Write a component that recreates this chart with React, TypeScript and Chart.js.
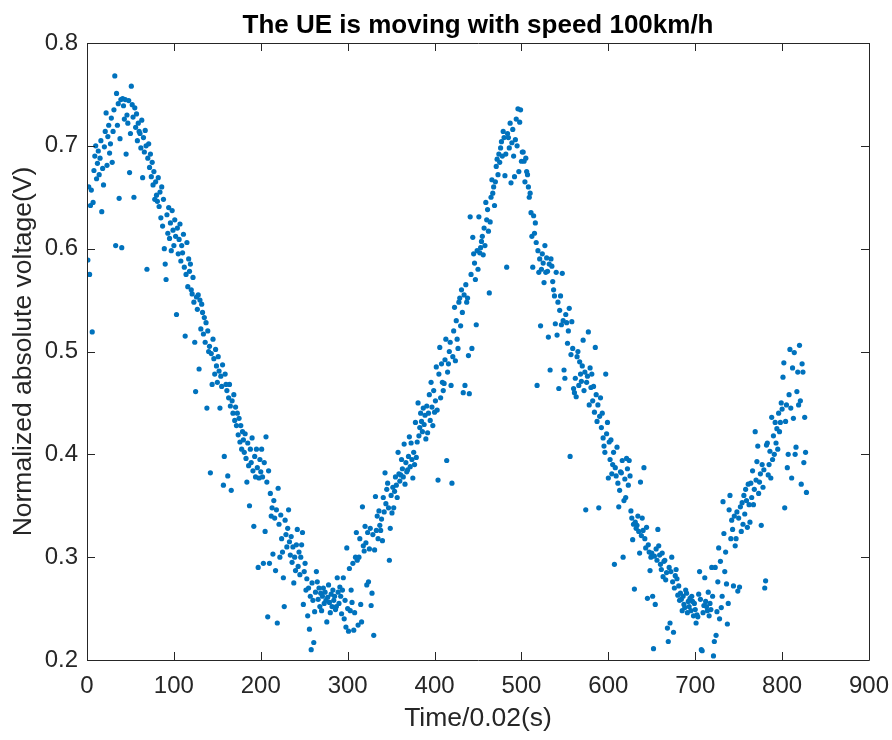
import React, { useEffect, useRef } from "react";
import { Chart, registerables } from "chart.js";

Chart.register(...registerables);

const titleText = "The UE is moving with speed 100km/h";
const xLabel = "Time/0.02(s)";
const yLabel = "Normalized absolute voltage(V)";

const xTicks = [0, 100, 200, 300, 400, 500, 600, 700, 800, 900];
const yTicks = [0.2, 0.3, 0.4, 0.5, 0.6, 0.7, 0.8];

const firstSample = 1;

// one value per sample, sample index = firstSample + position
const voltage = [
  0.589,0.660,0.575,0.642,0.657,0.519,0.645,0.676,0.690,0.700,0.668,0.683,0.695,0.672,0.688,0.705,0.636,0.678,0.662,0.699,
  0.714,0.732,0.681,0.709,0.720,0.693,0.702,0.727,0.684,0.714,0.735,0.768,0.603,0.751,0.720,0.741,0.649,0.707,0.745,0.601,
  0.746,0.739,0.726,0.745,0.692,0.730,0.722,0.744,0.674,0.712,0.758,0.740,0.728,0.650,0.737,0.718,0.731,0.705,0.722,0.714,
  0.712,0.698,0.725,0.669,0.708,0.694,0.715,0.700,0.580,0.688,0.702,0.679,0.692,0.670,0.684,0.662,0.675,0.648,0.665,0.652,
  0.646,0.669,0.641,0.655,0.630,0.660,0.622,0.648,0.600,0.585,0.570,0.633,0.615,0.640,0.610,0.625,0.598,0.637,0.618,0.603,
  0.628,0.612,0.536,0.620,0.595,0.609,0.624,0.588,0.603,0.596,0.614,0.582,0.515,0.575,0.606,0.563,0.590,0.578,0.585,0.560,
  0.556,0.572,0.548,0.509,0.461,0.553,0.541,0.555,0.483,0.550,0.522,0.546,0.538,0.517,0.533,0.509,0.528,0.445,0.520,0.500,
  0.505,0.382,0.498,0.468,0.512,0.493,0.478,0.502,0.486,0.470,0.495,0.481,0.445,0.476,0.466,0.487,0.370,0.398,0.478,0.468,
  0.462,0.379,0.455,0.468,0.447,0.365,0.452,0.440,0.458,0.433,0.446,0.428,0.440,0.419,0.435,0.412,0.428,0.405,0.422,0.414,
  0.402,0.420,0.396,0.373,0.411,0.389,0.350,0.405,0.392,0.416,0.384,0.330,0.398,0.378,0.405,0.387,0.290,0.377,0.395,0.383,
  0.405,0.378,0.294,0.392,0.325,0.417,0.373,0.242,0.384,0.294,0.362,0.340,0.348,0.303,0.355,0.338,0.287,0.346,0.236,0.367,
  0.332,0.300,0.341,0.318,0.305,0.280,0.252,0.336,0.322,0.310,0.328,0.346,0.315,0.302,0.320,0.295,0.310,0.275,0.300,0.287,
  0.312,0.327,0.291,0.305,0.283,0.300,0.312,0.324,0.254,0.286,0.294,0.268,0.279,0.243,0.270,0.230,0.262,0.210,0.275,0.258,
  0.217,0.247,0.266,0.286,0.276,0.259,0.270,0.252,0.265,0.248,0.262,0.270,0.255,0.266,0.258,0.237,0.261,0.273,0.256,0.246,
  0.264,0.252,0.268,0.258,0.262,0.249,0.252,0.280,0.266,0.255,0.271,0.262,0.245,0.268,0.280,0.240,0.258,0.232,0.309,0.250,
  0.228,0.289,0.248,0.268,0.256,0.294,0.229,0.246,0.300,0.324,0.297,0.234,0.300,0.318,0.254,0.237,0.349,0.311,0.306,0.330,
  0.314,0.273,0.324,0.276,0.308,0.328,0.253,0.265,0.322,0.224,0.307,0.359,0.326,0.340,0.318,0.345,0.331,0.326,0.337,0.316,
  0.358,0.344,0.382,0.352,0.366,0.372,0.348,0.297,0.328,0.360,0.343,0.368,0.348,0.364,0.378,0.370,0.358,0.402,0.381,0.374,
  0.380,0.395,0.386,0.378,0.410,0.371,0.392,0.383,0.385,0.398,0.417,0.388,0.411,0.395,0.377,0.402,0.390,0.431,0.397,0.412,
  0.450,0.418,0.426,0.440,0.432,0.422,0.445,0.429,0.438,0.415,0.447,0.421,0.440,0.458,0.433,0.470,0.446,0.428,0.462,0.441,
  0.452,0.485,0.443,0.375,0.478,0.504,0.455,0.488,0.470,0.462,0.469,0.492,0.512,0.394,0.480,0.488,0.500,0.509,0.467,0.372,
  0.495,0.520,0.543,0.491,0.530,0.512,0.503,0.548,0.552,0.525,0.560,0.538,0.460,0.555,0.467,0.565,0.548,0.552,0.496,0.459,
  0.631,0.575,0.503,0.611,0.595,0.586,0.570,0.526,0.598,0.580,0.631,0.596,0.601,0.607,0.612,0.594,0.620,0.603,0.645,0.628,
  0.638,0.617,0.557,0.626,0.650,0.667,0.654,0.660,0.642,0.665,0.680,0.687,0.672,0.692,0.684,0.698,0.704,0.690,0.714,0.708,
  0.671,0.692,0.582,0.712,0.708,0.698,0.722,0.664,0.703,0.716,0.690,0.670,0.706,0.726,0.700,0.736,0.675,0.723,0.735,0.685,
  0.694,0.694,0.685,0.665,0.688,0.675,0.672,0.660,0.650,0.654,0.635,0.612,0.582,0.632,0.615,0.625,0.606,0.467,0.598,0.577,
  0.590,0.525,0.580,0.595,0.586,0.567,0.603,0.577,0.591,0.578,0.514,0.585,0.482,0.590,0.583,0.568,0.560,0.554,0.527,0.577,
  0.516,0.548,0.464,0.540,0.554,0.526,0.576,0.530,0.482,0.474,0.536,0.528,0.508,0.520,0.542,0.398,0.497,0.529,0.503,0.464,
  0.460,0.474,0.456,0.495,0.500,0.467,0.490,0.478,0.471,0.486,0.511,0.462,0.480,0.346,0.470,0.476,0.519,0.448,0.484,0.465,
  0.478,0.452,0.466,0.441,0.504,0.458,0.432,0.448,0.348,0.437,0.455,0.426,0.440,0.416,0.408,0.402,0.478,0.420,0.431,0.377,
  0.412,0.395,0.414,0.381,0.390,0.402,0.293,0.387,0.379,0.407,0.372,0.349,0.365,0.383,0.382,0.394,0.300,0.355,0.376,0.358,
  0.396,0.386,0.370,0.394,0.379,0.345,0.338,0.317,0.332,0.269,0.334,0.328,0.331,0.340,0.325,0.304,0.373,0.321,0.338,0.326,
  0.387,0.318,0.309,0.329,0.260,0.312,0.305,0.287,0.300,0.304,0.262,0.211,0.301,0.254,0.308,0.297,0.327,0.311,0.302,0.293,
  0.288,0.304,0.281,0.296,0.297,0.278,0.285,0.231,0.218,0.290,0.236,0.286,0.300,0.276,0.227,0.270,0.282,0.288,0.279,0.263,
  0.272,0.258,0.265,0.259,0.248,0.262,0.254,0.251,0.268,0.265,0.246,0.257,0.252,0.260,0.248,0.262,0.257,0.243,0.255,0.249,
  0.236,0.244,0.242,0.264,0.286,0.259,0.210,0.209,0.246,0.253,0.280,0.257,0.252,0.248,0.266,0.243,0.255,0.249,0.290,0.262,
  0.204,0.218,0.290,0.224,0.247,0.276,0.309,0.240,0.296,0.251,0.262,0.354,0.323,0.286,0.305,0.274,0.235,0.255,0.346,0.360,
  0.318,0.336,0.327,0.272,0.340,0.311,0.318,0.344,0.267,0.338,0.271,0.349,0.325,0.353,0.332,0.360,0.342,0.366,0.355,0.329,
  0.371,0.351,0.334,0.372,0.358,0.384,0.351,0.366,0.422,0.375,0.393,0.408,0.362,0.373,0.381,0.331,0.390,0.368,0.385,0.270,
  0.277,0.409,0.411,0.380,0.390,0.403,0.377,0.436,0.395,0.418,0.400,0.431,0.411,0.425,0.405,0.440,0.422,0.431,0.450,0.444,
  0.475,0.489,0.348,0.432,0.448,0.387,0.400,0.458,0.502,0.445,0.377,0.484,0.435,0.499,0.400,0.407,0.461,0.480,0.448,0.506,
  0.452,0.371,0.488,0.480,0.392,0.436,0.402,0.363,
];

const AXIS_COLOR = "#262626";
const DOT_COLOR = "#0072BD";
const FONT = "'Liberation Sans', Arial, Helvetica, sans-serif";

const frame = {
  id: "matlabFrame",
  afterDraw(chart: any) {
    const { ctx, chartArea, scales } = chart;
    const { left, right, top, bottom } = chartArea;
    const xs = scales.x;
    const ys = scales.y;
    ctx.save();
    ctx.strokeStyle = AXIS_COLOR;
    ctx.lineWidth = 1;
    ctx.beginPath();
    ctx.rect(Math.round(left) + 0.5, Math.round(top) + 0.5, Math.round(right - left), Math.round(bottom - top));
    ctx.stroke();
    const tl = 8;
    ctx.beginPath();
    for (const v of xTicks) {
      const px = Math.round(xs.getPixelForValue(v)) + 0.5;
      ctx.moveTo(px, bottom);
      ctx.lineTo(px, bottom - tl);
      ctx.moveTo(px, top);
      ctx.lineTo(px, top + tl);
    }
    for (const v of yTicks) {
      const py = Math.round(ys.getPixelForValue(v)) + 0.5;
      ctx.moveTo(left, py);
      ctx.lineTo(left + tl, py);
      ctx.moveTo(right, py);
      ctx.lineTo(right - tl, py);
    }
    ctx.stroke();

    const cx = (left + right) / 2;
    const cy = (top + bottom) / 2;
    ctx.fillStyle = "#000000";
    ctx.textAlign = "center";
    ctx.textBaseline = "alphabetic";
    ctx.font = `bold 26px ${FONT}`;
    ctx.fillText(titleText, cx, 33);

    ctx.fillStyle = AXIS_COLOR;
    ctx.font = `26.5px ${FONT}`;
    ctx.fillText(xLabel, cx, 726);

    ctx.translate(31, cy);
    ctx.rotate(-Math.PI / 2);
    ctx.fillText(yLabel, 0, 0);
    ctx.restore();
  },
};

export default function App() {
  const ref = useRef<HTMLCanvasElement | null>(null);
  useEffect(() => {
    document.body.style.margin = "0";
    const canvas = ref.current;
    if (!canvas) return;
    const points = voltage.map((v, i) => ({ x: firstSample + i, y: v }));
    const chart = new Chart(canvas, {
      type: "scatter",
      data: {
        datasets: [
          {
            data: points,
            pointRadius: 2.6,
            pointBorderWidth: 0,
            pointBackgroundColor: DOT_COLOR,
            pointBorderColor: DOT_COLOR,
            pointHoverRadius: 2.6,
          },
        ],
      },
      options: {
        responsive: false,
        animation: false,
        devicePixelRatio: 1,
        layout: { padding: { top: 43, right: 23, left: 0, bottom: 0 } },
        plugins: {
          legend: { display: false },
          tooltip: { enabled: false },
          title: { display: false },
        },
        scales: {
          x: {
            type: "linear",
            min: 0,
            max: 900,
            afterBuildTicks: (s: any) => {
              s.ticks = xTicks.map((v) => ({ value: v }));
            },
            afterFit: (s: any) => {
              s.height = 80;
              s.paddingLeft = 0;
              s.paddingRight = 0;
            },
            grid: { display: false, drawTicks: false },
            border: { display: false },
            ticks: {
              color: AXIS_COLOR,
              font: { family: FONT, size: 24 },
              padding: 12,
              maxRotation: 0,
              callback: (v: any) => String(v),
            },
          },
          y: {
            type: "linear",
            min: 0.2,
            max: 0.8,
            afterBuildTicks: (s: any) => {
              s.ticks = yTicks.map((v) => ({ value: v }));
            },
            afterFit: (s: any) => {
              s.width = 87;
              s.paddingTop = 0;
              s.paddingBottom = 0;
            },
            grid: { display: false, drawTicks: false },
            border: { display: false },
            ticks: {
              color: AXIS_COLOR,
              font: { family: FONT, size: 24 },
              padding: 9,
              callback: (v: any) => Number(v).toFixed(1),
            },
          },
        },
      },
      plugins: [frame],
    });
    return () => chart.destroy();
  }, []);
  return <canvas ref={ref} width={892} height={740} style={{ display: "block" }} />;
}
